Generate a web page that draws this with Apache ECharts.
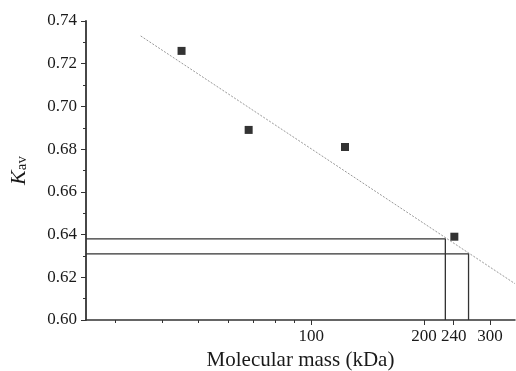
<!DOCTYPE html>
<html>
<head>
<meta charset="utf-8">
<script src="https://cdn.jsdelivr.net/npm/echarts@6/dist/echarts.min.js"></script>
<style>
  html, body { margin: 0; padding: 0; background: #fff; }
  #chart { width: 516px; height: 371px; }
</style>
</head>
<body>
<div id="chart"></div>
<script>
// standards: molecular mass (kDa) and Kav
const massKda = [45, 68, 123, 241];
const kavValues = [0.726, 0.689, 0.681, 0.639];
// fitted line ends
const fitMass = [35, 350];
const fitKav = [0.733, 0.617];
// read-off lines for the unknowns
const readMass = [228, 263];
const readKav = [0.638, 0.631];
// x ticks
const xLabelValues = [100, 200, 240, 300];
const xMinorValues = [30, 40, 50, 60, 70, 80, 90];

const xMin = 25, xMax = 350;
const yMin = 0.6, yMax = 0.74;
const serif = 'Liberation Serif';
const ink = '#1a1a1a';

const chart = echarts.init(document.getElementById('chart'));

const readSeries = readMass.map((m, i) => ({
  type: 'line',
  data: [[xMin, readKav[i]], [m, readKav[i]], [m, yMin]],
  symbol: 'none',
  silent: true,
  lineStyle: { color: '#333', width: 1.3 },
  z: 2
}));

chart.setOption({
  animation: false,
  backgroundColor: '#fff',
  grid: { left: 86, top: 21, right: 1, bottom: 51, containLabel: false, outerBoundsMode: 'none' },
  xAxis: [
    {
      type: 'log',
      logBase: 10,
      min: xMin,
      max: xMax,
      position: 'bottom',
      name: 'Molecular mass (kDa)',
      nameLocation: 'middle',
      nameGap: 29,
      nameTextStyle: { fontFamily: serif, fontSize: 21, color: ink },
      axisLine: { show: true, lineStyle: { color: '#333', width: 1.5 } },
      axisTick: { show: true, customValues: xLabelValues, length: 5, lineStyle: { color: '#333' } },
      axisLabel: { customValues: xLabelValues, margin: 8, fontFamily: serif, fontSize: 17, color: ink },
      splitLine: { show: false },
      minorTick: { show: false }
    },
    {
      type: 'log',
      logBase: 10,
      min: xMin,
      max: xMax,
      position: 'bottom',
      axisLine: { show: false },
      axisTick: { show: true, customValues: xMinorValues, length: 3, lineStyle: { color: '#333' } },
      axisLabel: { show: false },
      splitLine: { show: false }
    }
  ],
  yAxis: {
    type: 'value',
    min: yMin,
    max: yMax,
    interval: 0.02,
    name: '{k|K}{s|av}',
    nameLocation: 'middle',
    nameRotate: 90,
    nameGap: 56,
    nameTextStyle: {
      rich: {
        k: { fontFamily: serif, fontStyle: 'italic', fontSize: 22, color: ink },
        s: { fontFamily: serif, fontSize: 15, color: ink, verticalAlign: 'bottom', padding: [6, 0, 0, 0] }
      }
    },
    axisLine: { show: true, lineStyle: { color: '#333', width: 1.8 } },
    axisTick: { show: true, length: 5, lineStyle: { color: '#333' } },
    minorTick: { show: true, splitNumber: 2, length: 3, lineStyle: { color: '#333' } },
    axisLabel: {
      margin: 9,
      fontFamily: serif,
      fontSize: 17,
      color: ink,
      formatter: v => v.toFixed(2)
    },
    splitLine: { show: false }
  },
  series: [
    {
      type: 'line',
      data: fitMass.map((m, i) => [m, fitKav[i]]),
      symbol: 'none',
      silent: true,
      lineStyle: { color: '#999', width: 1, type: [2, 1.5] },
      z: 1
    },
    ...readSeries,
    {
      type: 'scatter',
      data: massKda.map((m, i) => [m, kavValues[i]]),
      symbol: 'rect',
      symbolSize: 8,
      itemStyle: { color: '#000' },
      z: 3
    }
  ]
});
</script>
</body>
</html>
